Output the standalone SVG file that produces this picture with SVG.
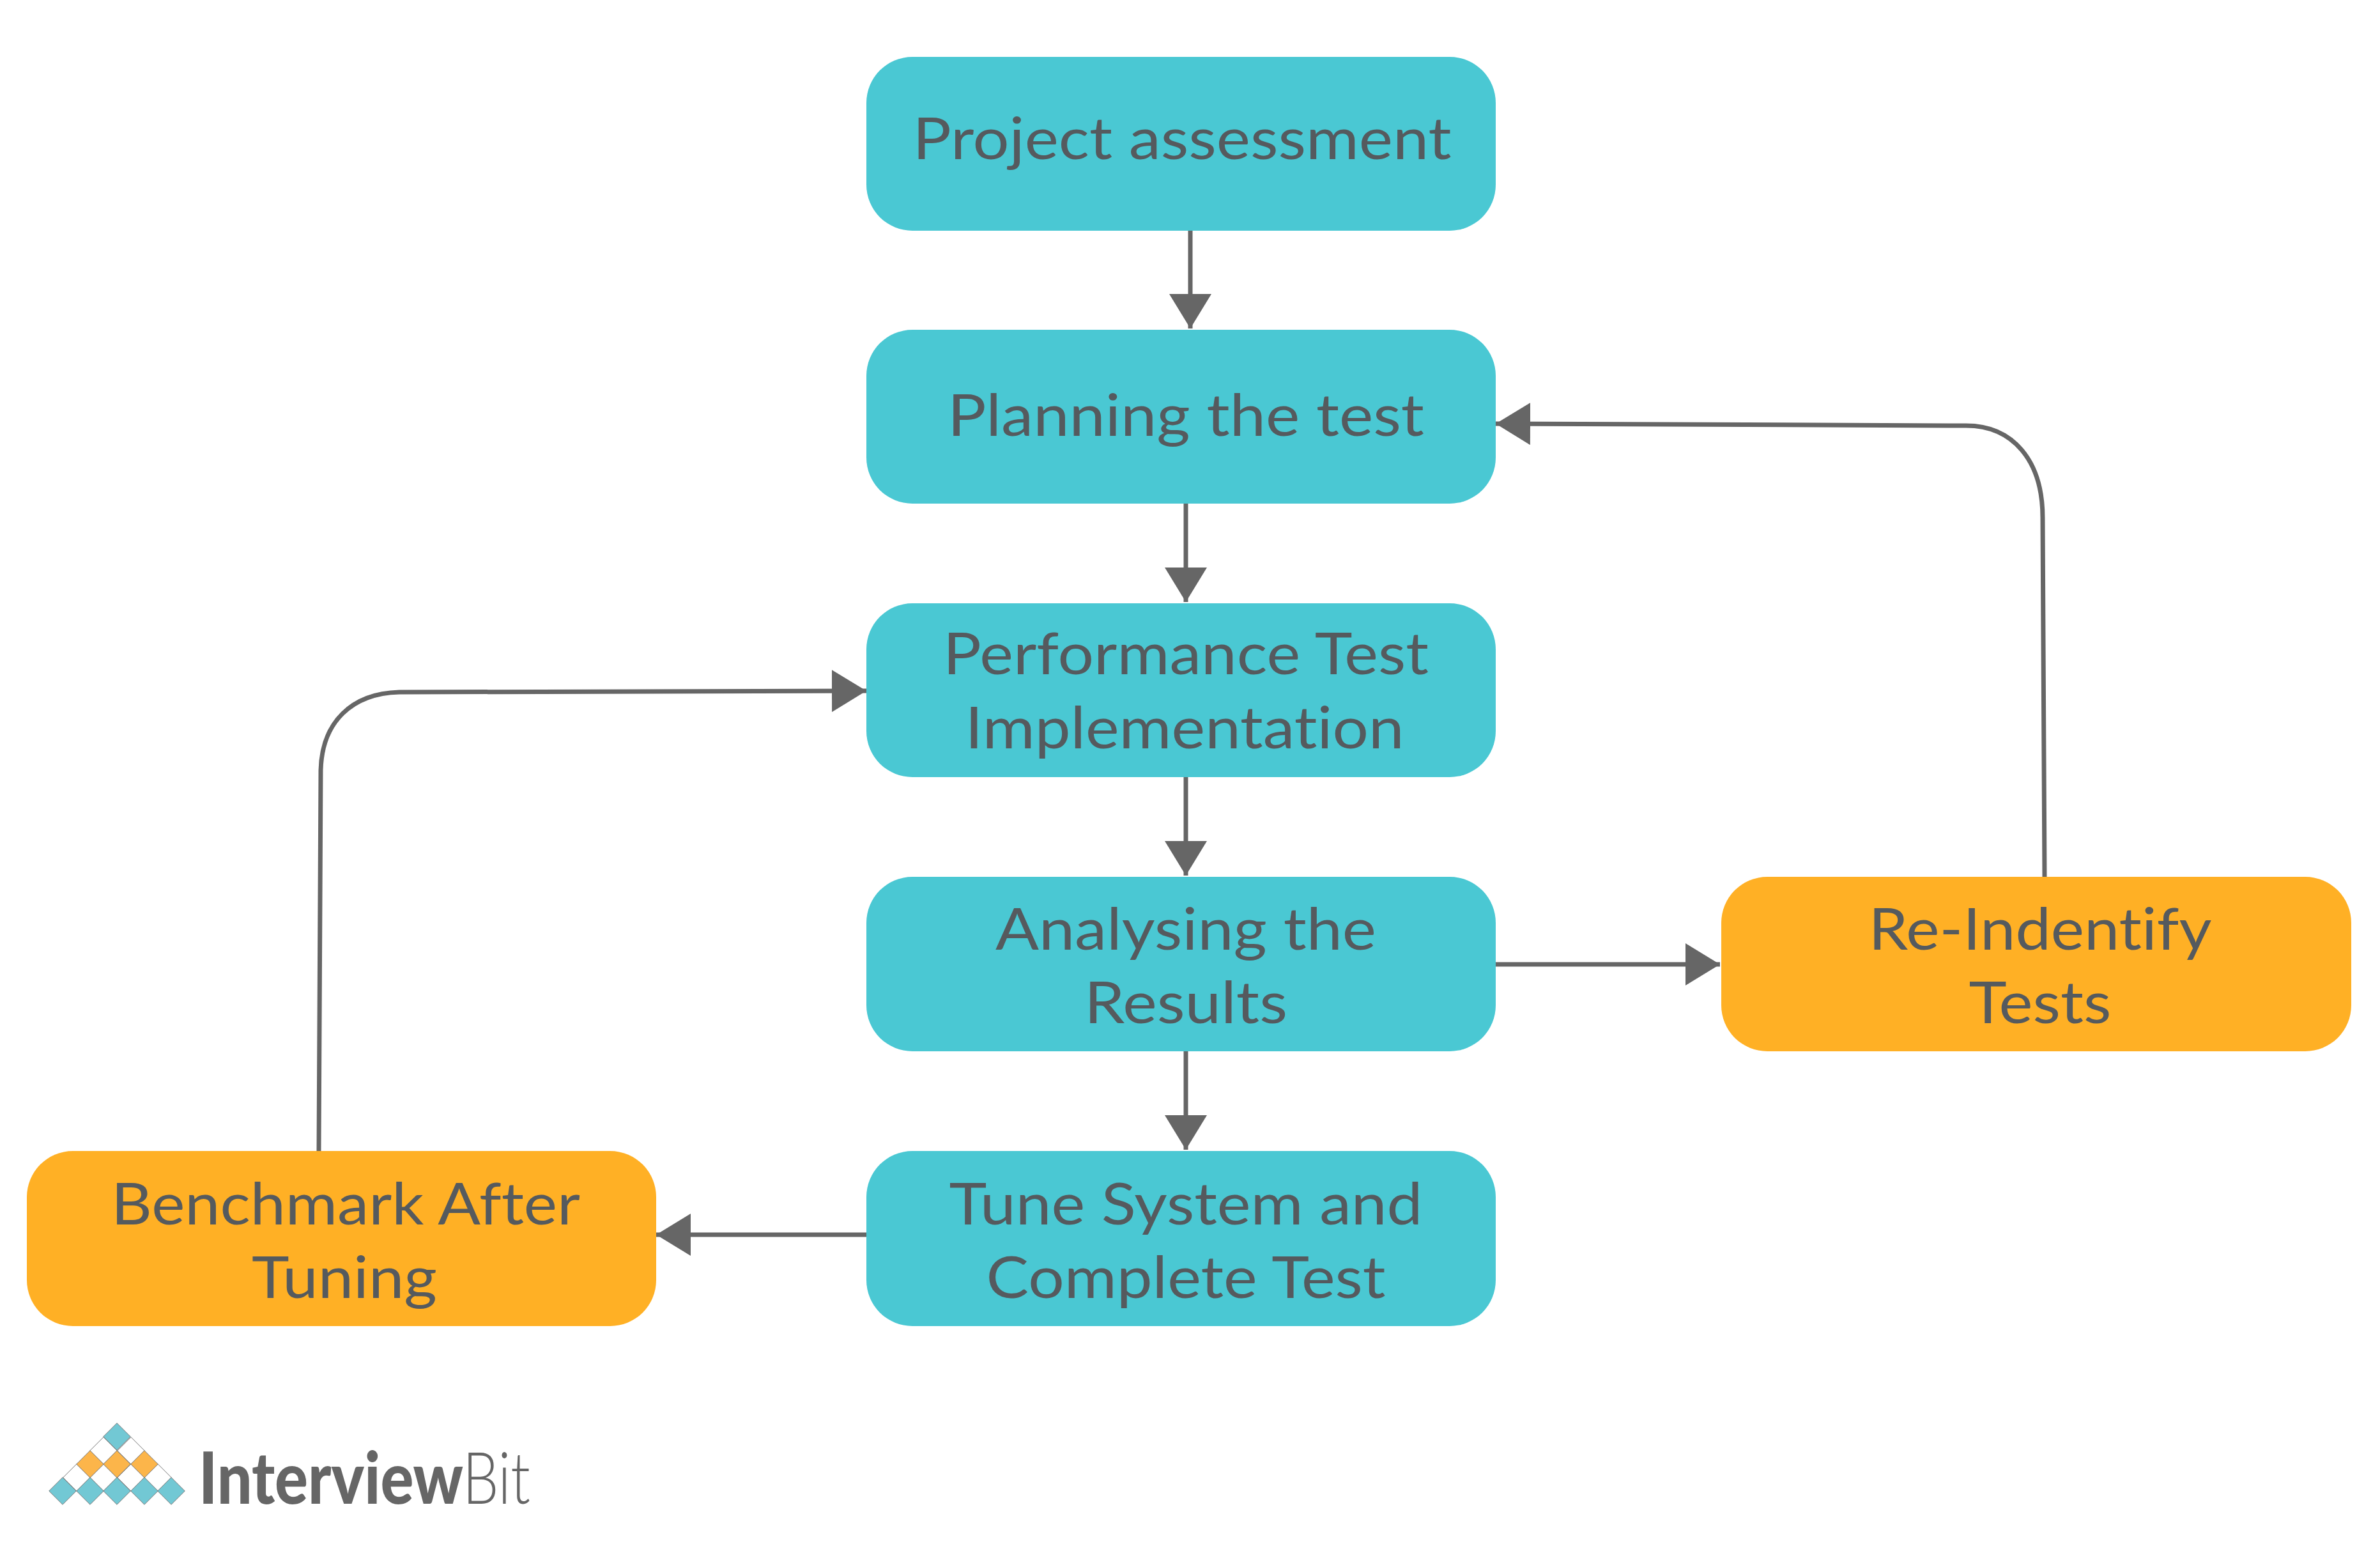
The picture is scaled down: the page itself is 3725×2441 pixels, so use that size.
<svg xmlns="http://www.w3.org/2000/svg" width="3725" height="2441" viewBox="0 0 3725 2441">
<defs>
<style>
.n{rx:72px}
.t{fill:#4ac8d3}
.o{fill:#ffb025}
.l{font-family:"Lato","Liberation Sans",sans-serif;font-size:91px;fill:#555a5e;text-anchor:middle;font-variant-ligatures:none}
.c{fill:none;stroke:#666;stroke-width:7;marker-end:url(#a)}
.dt{fill:#72c8d4;stroke:#777;stroke-width:1}
.do{fill:#fcb54a;stroke:#777;stroke-width:1}
.dw{fill:#fff;stroke:#777;stroke-width:1}
.b{font-family:"Lato","Liberation Sans",sans-serif;font-size:112px;fill:#666;font-variant-ligatures:none}
.bb{font-weight:900}
.bl{font-weight:300}
</style>
<marker id="a" markerUnits="userSpaceOnUse" viewBox="0 0 54 66" markerWidth="54" markerHeight="66" refX="54" refY="33" orient="auto"><path d="M0,0L54,33L0,66z" fill="#666"/></marker>
<path id="d" d="M0,-21.3L21.3,0L0,21.3L-21.3,0z"/>
</defs>
<rect width="3725" height="2441" fill="#fff"/>
<g id="connectors">
<path class="c" d="M1863,361V514"/>
<path class="c" d="M1856,788V942"/>
<path class="c" d="M1856,1216V1370"/>
<path class="c" d="M1856,1645V1799"/>
<path class="c" d="M2341,1509H2692"/>
<path class="c" d="M1356,1932H1027"/>
<path class="c" d="M3200,1372L3197,810C3197,720 3150,666 3077,666L2341,663"/>
<path class="c" d="M499,1801L502,1205C504,1130 550,1085 625,1083L1356,1081"/>
</g>
<g id="node-project"><rect class="n t" x="1356" y="89" width="985" height="272"/><text class="l" x="1850" y="249" textLength="843" lengthAdjust="spacingAndGlyphs">Project assessment</text></g>
<g id="node-planning"><rect class="n t" x="1356" y="516" width="985" height="272"/><text class="l" x="1856" y="682" textLength="746" lengthAdjust="spacingAndGlyphs">Planning the test</text></g>
<g id="node-implementation"><rect class="n t" x="1356" y="944" width="985" height="272"/><text class="l" x="1856" y="1055" textLength="760" lengthAdjust="spacingAndGlyphs">Performance Test</text><text class="l" x="1854" y="1171" textLength="687" lengthAdjust="spacingAndGlyphs">Implementation</text></g>
<g id="node-analysing"><rect class="n t" x="1356" y="1372" width="985" height="273"/><text class="l" x="1856" y="1486" textLength="596" lengthAdjust="spacingAndGlyphs">Analysing the</text><text class="l" x="1856" y="1601" textLength="318" lengthAdjust="spacingAndGlyphs">Results</text></g>
<g id="node-tune"><rect class="n t" x="1356" y="1801" width="985" height="274"/><text class="l" x="1856" y="1916" textLength="741" lengthAdjust="spacingAndGlyphs">Tune System and</text><text class="l" x="1856" y="2031" textLength="625" lengthAdjust="spacingAndGlyphs">Complete Test</text></g>
<g id="node-reidentify"><rect class="n o" x="2694" y="1372" width="986" height="273"/><text class="l" x="3193" y="1486" textLength="537" lengthAdjust="spacingAndGlyphs">Re-Indentify</text><text class="l" x="3193" y="1601" textLength="223" lengthAdjust="spacingAndGlyphs">Tests</text></g>
<g id="node-benchmark"><rect class="n o" x="42" y="1801" width="985" height="274"/><text class="l" x="541" y="1916" textLength="734" lengthAdjust="spacingAndGlyphs">Benchmark After</text><text class="l" x="539" y="2031" textLength="290" lengthAdjust="spacingAndGlyphs">Tuning</text></g>
<g id="logo">
<use href="#d" class="dw" x="162" y="2270"/><use href="#d" class="dw" x="205" y="2270"/>
<use href="#d" class="dw" x="120" y="2312"/><use href="#d" class="dw" x="162" y="2312"/><use href="#d" class="dw" x="205" y="2312"/><use href="#d" class="dw" x="247" y="2312"/>
<use href="#d" class="dt" x="183" y="2248"/>
<use href="#d" class="do" x="141" y="2291"/><use href="#d" class="do" x="183" y="2291"/><use href="#d" class="do" x="226" y="2291"/>
<use href="#d" class="dt" x="98" y="2333"/><use href="#d" class="dt" x="141" y="2333"/><use href="#d" class="dt" x="183" y="2333"/><use href="#d" class="dt" x="226" y="2333"/><use href="#d" class="dt" x="268" y="2333"/>
<text class="b" y="2353"><tspan class="bb" x="311" textLength="414" lengthAdjust="spacingAndGlyphs">Interview</tspan><tspan class="bl" x="724" textLength="106" lengthAdjust="spacingAndGlyphs">Bit</tspan></text>
</g>
</svg>
